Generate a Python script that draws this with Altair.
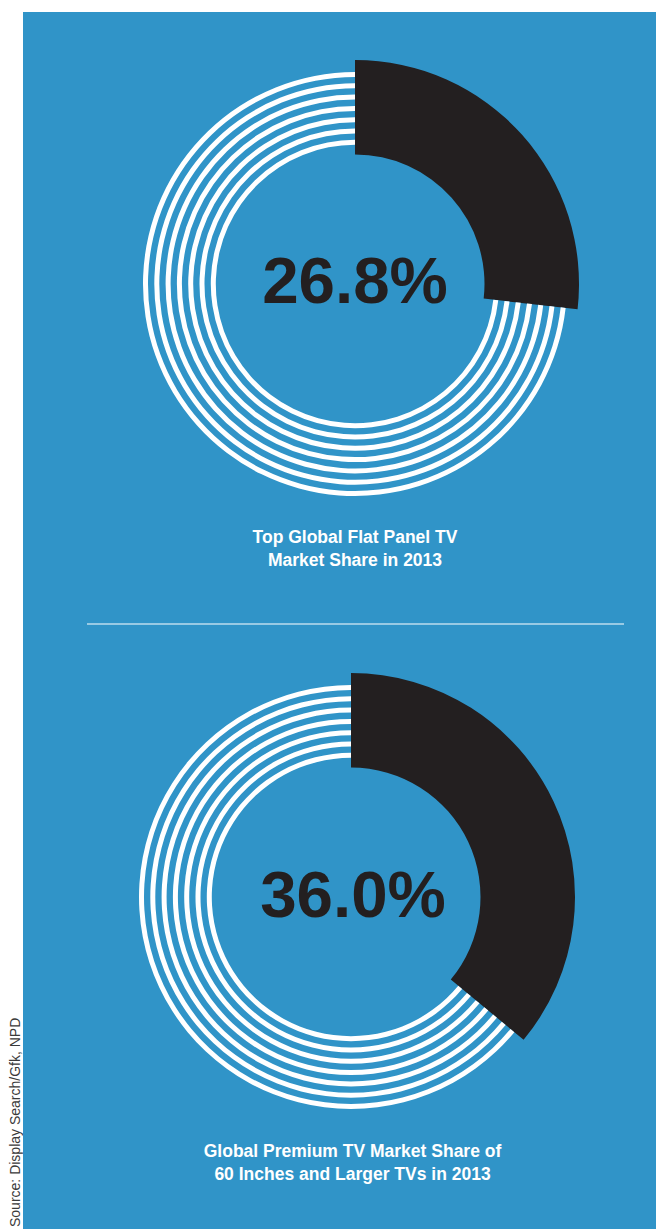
import altair as alt
import pandas as pd

# ---- data ----
shares = [26.8, 36.0]
pct_labels = ["26.8%", "36.0%"]
caption_line1 = ["Top Global Flat Panel TV", "Global Premium TV Market Share of"]
caption_line2 = ["Market Share in 2013", "60 Inches and Larger TVs in 2013"]
source_note = "Source: Display Search/Gfk, NPD"

# ---- style ----
BLUE = "#3094c8"
DARK = "#231f20"
FONT = "Liberation Sans"
N_RINGS = 7

centers = [(332, 272), (328, 885)]
pct_pos = [(332, 291), (330, 905)]
cap_pos = [(332, 531), (329.5, 1145)]

theta_scale = alt.Scale(domain=[0, 100], range=[0, 6.283185307179586])

layers = []
for i, share in enumerate(shares):
    cx, cy = centers[i]
    seg = pd.DataFrame({"part": ["share", "rest"], "start": [0, share], "end": [share, 100]})
    base = alt.Chart(seg).encode(
        theta=alt.Theta("start:Q", scale=theta_scale, stack=None),
        theta2="end:Q",
        x=alt.value(cx),
        y=alt.value(cy),
    )
    layers.append(
        base.transform_filter(alt.datum.part == "share").mark_arc(
            radius=224, radius2=129.5, color=DARK, strokeWidth=0
        )
    )
    for k in range(N_RINGS):
        ro = 212 - 11.3 * k
        layers.append(
            base.transform_filter(alt.datum.part == "rest").mark_arc(
                radius=ro, radius2=ro - 5, color="white", strokeWidth=0
            )
        )

    px, py = pct_pos[i]
    pct_df = pd.DataFrame({"label": [pct_labels[i]]})
    layers.append(
        alt.Chart(pct_df).mark_text(
            font=FONT, fontSize=65.5, fontWeight="bold", color=DARK,
            align="center", baseline="alphabetic"
        ).encode(text="label:N", x=alt.value(px), y=alt.value(py))
    )

    tx, ty = cap_pos[i]
    for j, line in enumerate([caption_line1[i], caption_line2[i]]):
        cap_df = pd.DataFrame({"label": [line]})
        layers.append(
            alt.Chart(cap_df).mark_text(
                font=FONT, fontSize=17.5, fontWeight="bold", color="white",
                align="center", baseline="alphabetic"
            ).encode(text="label:N", x=alt.value(tx), y=alt.value(ty + 23 * j))
        )

# separator line
sep_df = pd.DataFrame({"k": [0]})
layers.append(
    alt.Chart(sep_df).mark_rule(color="white", strokeWidth=1.2).encode(
        x=alt.value(64), x2=alt.value(601), y=alt.value(612)
    )
)

# source note (rotated)
src_df = pd.DataFrame({"label": [source_note]})
layers.append(
    alt.Chart(src_df).mark_text(
        font=FONT, fontSize=14, color="#3a3a3a", angle=270,
        align="left", baseline="alphabetic"
    ).encode(text="label:N", x=alt.value(-3.5), y=alt.value(1215))
)

chart = alt.layer(*layers).properties(
    width=633,
    height=1217,
    padding={"left": 15, "top": 4, "right": 0, "bottom": 0},
    autosize=alt.AutoSizeParams(type="none"),
    background="white",
).configure_view(fill=BLUE, strokeWidth=0)

chart.save("out.html", embed_options={"renderer": "svg", "actions": False})
